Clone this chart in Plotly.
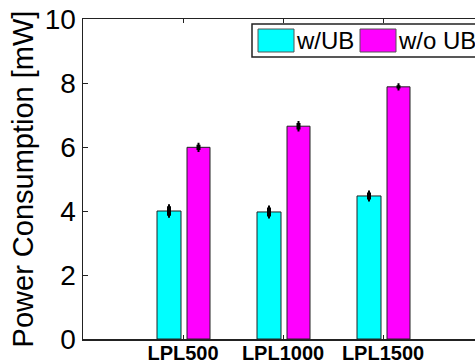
import plotly.graph_objects as go

categories = ["LPL500", "LPL1000", "LPL1500"]
series_names = ["w/UB", "w/o UB"]
with_ub = [4.00, 3.97, 4.47]
with_ub_err = [0.15, 0.14, 0.11]
without_ub = [5.99, 6.65, 7.88]
without_ub_err = [0.08, 0.10, 0.05]
y_ticks = [0, 2, 4, 6, 8, 10]

CYAN = "#00FFFF"
MAGENTA = "#FF00FF"
FONT = "Liberation Sans, Arial, Helvetica, sans-serif"

# the reference's plot box runs past the right edge of the 475 px picture
W, H = 500, 362
L, R, T, B = 83, 0, 19, 23
PW, PH = W - L - R, H - T - B


def px(x):
    return (x - L) / PW


def py(y):
    return (H - B - y) / PH


fig = go.Figure()
fig.add_trace(go.Bar(
    x=categories, y=with_ub, name=series_names[0],
    width=0.24, offset=-0.26,
    marker=dict(color=CYAN, line=dict(color="#222222", width=1)),
    error_y=dict(type="data", array=with_ub_err, color="black", thickness=4, width=1),
    showlegend=False, hoverinfo="skip",
))
fig.add_trace(go.Bar(
    x=categories, y=without_ub, name=series_names[1],
    width=0.23, offset=0.04,
    marker=dict(color=MAGENTA, line=dict(color="#222222", width=1)),
    error_y=dict(type="data", array=without_ub_err, color="black", thickness=4, width=1),
    showlegend=False, hoverinfo="skip",
))

# manual legend (box runs off the right edge like the reference)
shapes = [
    dict(type="rect", xref="paper", yref="paper", x0=px(252), x1=px(495), y0=py(57), y1=py(24),
         line=dict(color="#222222", width=1.5), fillcolor="white", layer="above"),
    dict(type="rect", xref="paper", yref="paper", x0=px(258), x1=px(294), y0=py(52), y1=py(29),
         line=dict(color="#555555", width=1), fillcolor=CYAN, layer="above"),
    dict(type="rect", xref="paper", yref="paper", x0=px(360), x1=px(396), y0=py(52), y1=py(29),
         line=dict(color="#555555", width=1), fillcolor=MAGENTA, layer="above"),
]
annotations = [
    dict(text=series_names[0], xref="paper", yref="paper", x=px(294), y=py(41),
         xanchor="left", yanchor="middle", showarrow=False,
         font=dict(family=FONT, size=24, color="black")),
    dict(text=series_names[1], xref="paper", yref="paper", x=px(396), y=py(41),
         xanchor="left", yanchor="middle", showarrow=False,
         font=dict(family=FONT, size=24, color="black")),
]

fig.update_layout(
    template="none",
    width=W, height=H,
    margin=dict(l=L, r=R, t=T, b=B, pad=0, autoexpand=False),
    paper_bgcolor="white", plot_bgcolor="white",
    barmode="overlay",
    font=dict(family=FONT, color="black"),
    shapes=shapes, annotations=annotations,
    showlegend=False,
)
fig.update_xaxes(
    type="category", range=[-1, -1 + PW / 100], automargin=False,
    showline=True, linecolor="#222222", linewidth=1.5, mirror="ticks",
    ticks="inside", ticklen=4, tickcolor="#222222",
    showgrid=False, zeroline=False,
    ticklabelstandoff=-5,
    tickfont=dict(family=FONT, size=20, color="black", weight="bold"),
)
fig.update_yaxes(
    range=[0, 10], tickvals=y_ticks, automargin=False,
    showline=True, linecolor="#222222", linewidth=1.5, mirror=False,
    ticks="inside", ticklen=5, tickcolor="#222222",
    showgrid=False, zeroline=False,
    tickfont=dict(family=FONT, size=28, color="black"),
    title=dict(text="Power Consumption [mW]", font=dict(family=FONT, size=29, color="black"), standoff=2),
)

fig.write_html(
    "out.html",
    config={"displayModeBar": False, "staticPlot": True},
    post_script=(
        "document.documentElement.style.overflow='hidden';"
        "document.body.style.margin='0';document.body.style.overflow='hidden';"
    ),
)
